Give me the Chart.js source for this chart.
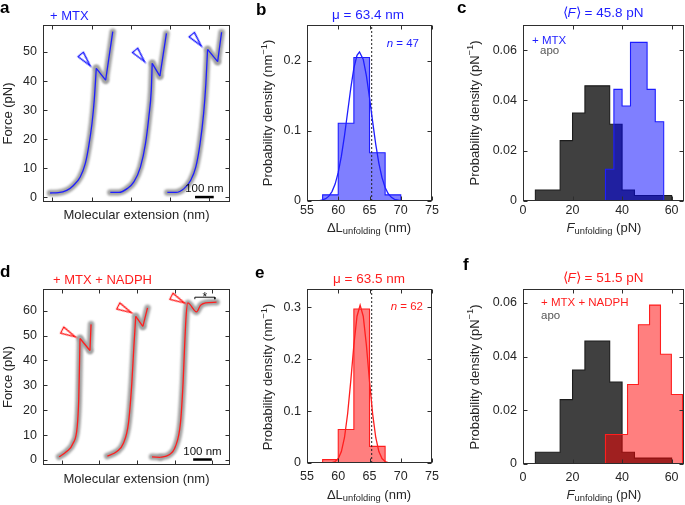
<!DOCTYPE html>
<html lang="en">
<head>
<meta charset="UTF-8">
<title>Unfolding forces</title>
<style>
  body { margin: 0; background: #fff; }
  #fig { position: relative; width: 685px; height: 505px; }
  #fig canvas { position: absolute; left: 0; top: 0; }
</style>
</head>
<body>
<div id="fig">
  <canvas id="pa" width="685" height="505"></canvas>
  <canvas id="pb" width="685" height="505"></canvas>
  <canvas id="pc" width="685" height="505"></canvas>
  <canvas id="pd" width="685" height="505"></canvas>
  <canvas id="pe" width="685" height="505"></canvas>
  <canvas id="pf" width="685" height="505"></canvas>
</div>
<script src="https://cdn.jsdelivr.net/npm/chart.js@4.4.0/dist/chart.umd.min.js"></script>
<script>
// ---- a: force-extension traces (+ MTX), extension in nm, force in pN
const a1Ext = [38, 82, 127, 163, 199, 226, 244, 262, 274, 285, 335, 373];
const a1F = [1.5, 1.6, 2.4, 4.1, 7.0, 11.6, 17.4, 25.4, 33.4, 44.4, 40.3, 57.0];
const a2Ext = [360, 405, 450, 486, 521, 548, 566, 579, 584, 625, 660];
const a2F = [1.7, 1.7, 3.0, 5.3, 10.4, 18.5, 27.7, 36.9, 46.1, 41.7, 56.4];
const a3Ext = [665, 710, 754, 790, 817, 840, 859, 871, 880, 934, 955];
const a3F = [1.7, 1.7, 3.0, 5.9, 10.4, 18.5, 28.9, 39.2, 50.9, 46.7, 56.8];
const aMarkExt = [227, 518, 821];
const aMarkF = [47.2, 48.6, 54.0];
const aBarExt = [813, 913];
const aExtTicks = [50, 260, 470, 680, 890];
const aForceTicks = [0, 10, 20, 30, 40, 50];

// ---- d: force-extension traces (+ MTX + NADPH)
const d1Ext = [86, 126, 161, 183, 191, 195, 198, 251, 257];
const d1F = [1.3, 3.4, 6.7, 13.4, 24.2, 37.6, 48.8, 44.0, 54.5];
const d2Ext = [344, 395, 430, 457, 475, 486, 496, 534, 559];
const d2F = [1.6, 3.4, 6.7, 14.8, 30.9, 45.6, 57.7, 53.7, 61.1];
const d3Ext = [583, 627, 672, 708, 735, 749, 758, 766, 774, 821, 842, 869, 928];
const d3F = [1.3, 1.1, 2.0, 5.4, 14.8, 30.9, 47.0, 58.5, 63.1, 59.5, 62.1, 63.1, 63.4];
const dMarkExt = [138, 438, 722];
const dMarkF = [50.8, 60.5, 64.4];
const dBarExt = [803, 903];
const dStarExt = [812, 812, 919, 919];
const dStarF = [64.6, 65.4, 65.4, 64.6];
const dExtTicks = [100, 300, 505, 705, 905];
const dForceTicks = [0, 10, 20, 30, 40, 50, 60];

// ---- b / e: unfolding length histograms + gaussian fits
const lenTicks = [55, 60, 65, 70, 75];
const bEdges = [57.5, 60, 62.5, 65, 67.5, 70];
const bDens = [0.0088, 0.111, 0.205, 0.069, 0.0088];
const bFitX = [57, 57.5, 58, 58.5, 59, 59.5, 60, 60.5, 61, 61.5, 62, 62.5, 63, 63.4, 64, 64.5, 65, 65.5, 66, 66.5, 67, 67.5, 68, 68.5, 69, 70, 71];
const bFitY = [0.0006, 0.0015, 0.0033, 0.0069, 0.0134, 0.0242, 0.0408, 0.064, 0.0935, 0.1271, 0.1609, 0.1897, 0.2082, 0.213, 0.2023, 0.1792, 0.1477, 0.1134, 0.081, 0.0539, 0.0334, 0.0193, 0.0103, 0.0052, 0.0024, 0.0004, 0.0001];
const bTicks = [0, 0.1, 0.2];
const eEdges = [57.5, 60, 62.5, 65, 67.5];
const eDens = [0.0065, 0.0645, 0.297, 0.032];
const eFitX = [58, 58.5, 59, 59.5, 60, 60.5, 61, 61.5, 62, 62.5, 63, 63.5, 64, 64.5, 65, 65.5, 66, 66.5, 67, 67.5, 68, 68.5, 69];
const eFitY = [0, 0.0002, 0.0008, 0.0029, 0.0086, 0.0221, 0.0492, 0.0949, 0.158, 0.2275, 0.2831, 0.3045, 0.2831, 0.2275, 0.158, 0.0949, 0.0492, 0.0221, 0.0086, 0.0029, 0.0008, 0.0002, 0];
const eTicks = [0, 0.1, 0.2, 0.3];
const contourLen = 65.35;

// ---- c / f: unfolding force histograms
const forceTicks = [0, 20, 40, 60];
const apoEdges = [5, 10, 15, 20, 25, 30, 35, 40, 45, 50, 55, 60];
const apoDens = [0.0044, 0.0044, 0.024, 0.035, 0.0458, 0.0458, 0.0305, 0.0044, 0.0022, 0.0022, 0.0022];
const mtxEdges = [33.3, 36.7, 40.0, 43.4, 46.7, 50.1, 53.4, 56.8];
const mtxDens = [0.0126, 0.0444, 0.0378, 0.0631, 0.0631, 0.0444, 0.0315];
const nadphEdges = [33.3, 37.7, 42.2, 46.6, 51.1, 55.5, 59.9, 64.4];
const nadphDens = [0.011, 0.011, 0.0296, 0.0519, 0.0592, 0.0409, 0.0259];
const densTicks = [0, 0.02, 0.04, 0.06];

const BLUE = '#1e1eff';
const RED = '#ff1e1e';
const INK = '#262626';
const FONT = "'Liberation Sans', Arial, Helvetica, sans-serif";

function pts(xs, ys) {
    return xs.map((x, i) => ({x: x, y: ys[i]}));
}

// outline of a histogram, fed to a stepped line
function steps(edges, dens) {
    const p = [{x: edges[0], y: 0}];
    dens.forEach((d, i) => p.push({x: edges[i], y: d}));
    p.push({x: edges[edges.length - 1], y: 0});
    return p;
}

function triangle(color) {
    const c = document.createElement('canvas');
    c.width = 22;
    c.height = 22;
    const g = c.getContext('2d');
    g.strokeStyle = color;
    g.lineWidth = 1.3;
    g.beginPath();
    g.moveTo(3.5, 7.5);
    g.lineTo(18.5, 11);
    g.lineTo(3.5, 14.5);
    g.closePath();
    g.stroke();
    return c;
}

// smooth rise up to the rupture, straight drop, smooth recovery
function trace(xs, ys, color) {
    const pk = ys.findIndex((v, i) => ys[i + 1] < v);
    const pieces = [[0, pk + 1, 'monotone'], [pk, pk + 2, 'default'], [pk + 1, xs.length, 'monotone']];
    const out = [];
    pieces.forEach(([s, e, mode]) => {
        const data = pts(xs.slice(s, e), ys.slice(s, e));
        out.push({data: data, showLine: true, borderColor: color, borderWidth: 1.3,
            cubicInterpolationMode: mode, order: 0});
        out.push({data: data, showLine: true, borderColor: '#a2a2a2', borderWidth: 6.5,
            borderCapStyle: 'round', borderJoinStyle: 'round', cubicInterpolationMode: mode, order: 3, halo: true});
    });
    return out;
}

function hist(edges, dens, fill, line, order) {
    return {data: steps(edges, dens), showLine: true, stepped: 'before', fill: 'origin',
        backgroundColor: fill, borderColor: line, borderWidth: 1.1, order: order};
}

function runs(ctx, parts, x, y, o) {
    o = o || {};
    const size = o.size || 13;
    const fontOf = p => (p.i ? 'italic ' : '') + (p.b ? 'bold ' : '') +
        ((p.sub || p.sup) ? size * 0.72 : size) + 'px ' + FONT;
    let w = 0;
    parts.forEach(p => { ctx.font = fontOf(p); p.w = ctx.measureText(p.t).width; w += p.w; });
    ctx.save();
    ctx.translate(x, y);
    if (o.rot) ctx.rotate(o.rot);
    ctx.fillStyle = o.color || INK;
    ctx.textBaseline = 'middle';
    ctx.textAlign = 'left';
    let cx = o.align === 'left' ? 0 : o.align === 'right' ? -w : -w / 2;
    parts.forEach(p => {
        ctx.font = fontOf(p);
        const dy = p.sub ? size * 0.25 : p.sup ? -size * 0.35 : 0;
        ctx.fillText(p.t, cx, dy);
        cx += p.w;
    });
    ctx.restore();
}

function letter(ctx, t, x, y) {
    ctx.save();
    ctx.font = 'bold 17px ' + FONT;
    ctx.fillStyle = '#000';
    ctx.textBaseline = 'alphabetic';
    ctx.fillText(t, x, y);
    ctx.restore();
}

const frame = {
    id: 'frame',
    afterDatasetsDraw(chart) {
        const {ctx, chartArea: a, scales: {x, y}} = chart;
        const L = Math.round(a.left) + 0.5, R = Math.round(a.right) - 0.5;
        const T = Math.round(a.top) + 0.5, B = Math.round(a.bottom) - 0.5;
        ctx.save();
        ctx.strokeStyle = '#2e2e2e';
        ctx.lineWidth = 1;
        ctx.strokeRect(L, T, R - L, B - T);
        ctx.beginPath();
        x.ticks.forEach(t => {
            const p = Math.round(x.getPixelForValue(t.value)) + 0.5;
            ctx.moveTo(p, B); ctx.lineTo(p, B - 4);
            ctx.moveTo(p, T); ctx.lineTo(p, T + 4);
        });
        y.ticks.forEach(t => {
            const p = Math.round(y.getPixelForValue(t.value)) + 0.5;
            ctx.moveTo(L, p); ctx.lineTo(L + 4, p);
            ctx.moveTo(R, p); ctx.lineTo(R - 4, p);
        });
        ctx.stroke();
        ctx.restore();
    }
};

// soft grey halo under the traces
const halo = {
    id: 'halo',
    beforeDatasetDraw(chart, args) {
        if (chart.data.datasets[args.index].halo) {
            chart.ctx.save();
            chart.ctx.filter = 'blur(0.9px)';
        }
    },
    afterDatasetDraw(chart, args) {
        if (chart.data.datasets[args.index].halo) chart.ctx.restore();
    }
};

function axis(min, max, ticks, showLabels, pad, isX) {
    return {
        type: 'linear', min: min, max: max, bounds: 'data',
        grid: {display: false, drawTicks: false}, border: {display: false},
        ticks: {display: showLabels, padding: pad, maxRotation: 0, autoSkip: false, color: INK,
            font: {family: FONT, size: 12.5}, callback: v => String(v)},
        afterBuildTicks: s => { s.ticks = ticks.map(v => ({value: v})); },
        afterFit: s => { if (isX) s.height = 20; else s.width = 40; }
    };
}

function makeChart(id, box, xAxis, yAxis, datasets, notes) {
    return new Chart(document.getElementById(id), {
        type: 'scatter',
        data: {datasets: datasets},
        options: {
            responsive: false, animation: false, devicePixelRatio: 1,
            layout: {padding: {left: box.l - 40, top: box.t, right: 685 - box.r, bottom: 505 - box.b - 20}},
            plugins: {legend: {display: false}, tooltip: {enabled: false}},
            elements: {point: {radius: 0}, line: {tension: 0}},
            scales: {x: xAxis, y: yAxis}
        },
        plugins: [halo, frame, {id: 'notes', afterDraw: c => notes(c.ctx, c)}]
    });
}

function scaleBar(ctx, c, ext, f) {
    const x = c.scales.x, y = c.scales.y;
    const cx = (x.getPixelForValue(ext[0]) + x.getPixelForValue(ext[1])) / 2;
    runs(ctx, [{t: '100 nm'}], cx, y.getPixelForValue(f) - 8, {size: 11.5, color: '#111'});
}

const triBlue = triangle(BLUE);
const triRed = triangle(RED);

// ---------- a
makeChart('pa', {l: 43, t: 25, r: 230, b: 202},
    axis(0, 1000, aExtTicks, false, 2, true),
    axis(-1.6, 59.3, aForceTicks, true, 6, false),
    [].concat(trace(a1Ext, a1F, BLUE), trace(a2Ext, a2F, BLUE), trace(a3Ext, a3F, BLUE), [
        {data: pts(aMarkExt, aMarkF), pointStyle: triBlue, pointRotation: 50, pointRadius: 5, order: 0},
        {data: pts(aBarExt, [0.1, 0.1]), showLine: true, borderColor: '#000', borderWidth: 2.5, order: 0}
    ]),
    (ctx, c) => {
        letter(ctx, 'a', 0, 13);
        runs(ctx, [{t: '+ MTX'}], 50, 16, {color: BLUE, align: 'left'});
        runs(ctx, [{t: 'Force (pN)'}], 8, 113.5, {rot: -Math.PI / 2});
        runs(ctx, [{t: 'Molecular extension (nm)'}], 136.5, 215);
        scaleBar(ctx, c, aBarExt, 0.1);
    });

// ---------- b
makeChart('pb', {l: 307, t: 25, r: 432, b: 201},
    axis(55, 75, lenTicks, true, 2, true),
    axis(0, 0.2514, bTicks, true, 6, false),
    [
        {data: pts(bFitX, bFitY), showLine: true, borderColor: BLUE, borderWidth: 1.3, order: 0},
        {data: pts([contourLen, contourLen], [0, 0.2514]), showLine: true, borderColor: '#222', borderWidth: 1, borderDash: [2, 2], order: 1},
        hist(bEdges, bDens, 'rgba(0,0,255,0.5)', BLUE, 2)
    ],
    (ctx) => {
        letter(ctx, 'b', 256, 15);
        runs(ctx, [{t: 'μ = 63.4 nm'}], 368, 15, {color: BLUE, size: 13.5});
        runs(ctx, [{t: 'n', i: true}, {t: ' = 47'}], 419, 43.5, {color: BLUE, size: 11.5, align: 'right'});
        runs(ctx, [{t: 'Probability density (nm'}, {t: '−1', sup: true}, {t: ')'}], 268.5, 113, {rot: -Math.PI / 2});
        runs(ctx, [{t: 'ΔL'}, {t: 'unfolding', sub: true}, {t: ' (nm)'}], 369, 228);
    });

// ---------- c
makeChart('pc', {l: 523, t: 25, r: 684, b: 201},
    axis(0, 65, forceTicks, true, 2, true),
    axis(0, 0.07, densTicks, true, 6, false),
    [
        hist(mtxEdges, mtxDens, 'rgba(0,0,255,0.5)', BLUE, 0),
        hist(apoEdges, apoDens, '#404040', '#1c1c1c', 1)
    ],
    (ctx) => {
        letter(ctx, 'c', 457, 13);
        runs(ctx, [{t: '⟨'}, {t: 'F', i: true}, {t: '⟩ = 45.8 pN'}], 603, 13.5, {color: BLUE, size: 13.5});
        runs(ctx, [{t: '+ MTX'}], 532, 41, {color: BLUE, size: 11.5, align: 'left'});
        runs(ctx, [{t: 'apo'}], 540, 51, {color: '#555', size: 11.5, align: 'left'});
        runs(ctx, [{t: 'Probability density (pN'}, {t: '−1', sup: true}, {t: ')'}], 475, 113, {rot: -Math.PI / 2});
        runs(ctx, [{t: 'F', i: true}, {t: 'unfolding', sub: true}, {t: ' (pN)'}], 604, 228);
    });

// ---------- d
makeChart('pd', {l: 43, t: 289, r: 230, b: 465},
    axis(0, 1000, dExtTicks, false, 2, true),
    axis(-2, 68.7, dForceTicks, true, 6, false),
    [].concat(trace(d1Ext, d1F, RED), trace(d2Ext, d2F, RED), trace(d3Ext, d3F, RED), [
        {data: pts(dMarkExt, dMarkF), pointStyle: triRed, pointRotation: 27, pointRadius: 5, order: 0},
        {data: pts(dBarExt, [0.2, 0.2]), showLine: true, borderColor: '#000', borderWidth: 2.5, order: 0},
        {data: pts(dStarExt, dStarF), showLine: true, borderColor: '#111', borderWidth: 1, order: 0}
    ]),
    (ctx, c) => {
        letter(ctx, 'd', 0, 277);
        runs(ctx, [{t: '+ MTX + NADPH'}], 53, 280, {color: RED, align: 'left'});
        runs(ctx, [{t: 'Force (pN)'}], 8, 377, {rot: -Math.PI / 2});
        runs(ctx, [{t: 'Molecular extension (nm)'}], 136.5, 479);
        scaleBar(ctx, c, dBarExt, 0.2);
        const sx = (c.scales.x.getPixelForValue(dStarExt[1]) + c.scales.x.getPixelForValue(dStarExt[2])) / 2;
        runs(ctx, [{t: '*'}], sx, c.scales.y.getPixelForValue(dStarF[1]) + 0.5, {size: 12, color: '#111'});
    });

// ---------- e
makeChart('pe', {l: 307, t: 289, r: 432, b: 463},
    axis(55, 75, lenTicks, true, 6, true),
    axis(0, 0.3356, eTicks, true, 6, false),
    [
        {data: pts(eFitX, eFitY), showLine: true, borderColor: RED, borderWidth: 1.3, order: 0},
        {data: pts([contourLen, contourLen], [0, 0.3356]), showLine: true, borderColor: '#222', borderWidth: 1, borderDash: [2, 2], order: 1},
        hist(eEdges, eDens, 'rgba(255,0,0,0.5)', RED, 2)
    ],
    (ctx) => {
        letter(ctx, 'e', 255, 278);
        runs(ctx, [{t: 'μ = 63.5 nm'}], 369, 279, {color: RED, size: 13.5});
        runs(ctx, [{t: 'n', i: true}, {t: ' = 62'}], 423, 306.5, {color: RED, size: 11.5, align: 'right'});
        runs(ctx, [{t: 'Probability density (nm'}, {t: '−1', sup: true}, {t: ')'}], 268.5, 377, {rot: -Math.PI / 2});
        runs(ctx, [{t: 'ΔL'}, {t: 'unfolding', sub: true}, {t: ' (nm)'}], 369, 495);
    });

// ---------- f
makeChart('pf', {l: 523, t: 289, r: 684, b: 464},
    axis(0, 65, forceTicks, true, 6, true),
    axis(0, 0.0652, densTicks, true, 6, false),
    [
        hist(nadphEdges, nadphDens, 'rgba(255,0,0,0.5)', RED, 0),
        hist(apoEdges, apoDens, '#404040', '#1c1c1c', 1)
    ],
    (ctx) => {
        letter(ctx, 'f', 463, 270);
        runs(ctx, [{t: '⟨'}, {t: 'F', i: true}, {t: '⟩ = 51.5 pN'}], 603, 278, {color: RED, size: 13.5});
        runs(ctx, [{t: '+ MTX + NADPH'}], 541, 303, {color: RED, size: 11.5, align: 'left'});
        runs(ctx, [{t: 'apo'}], 541, 315.5, {color: '#555', size: 11.5, align: 'left'});
        runs(ctx, [{t: 'Probability density (pN'}, {t: '−1', sup: true}, {t: ')'}], 475, 377, {rot: -Math.PI / 2});
        runs(ctx, [{t: 'F', i: true}, {t: 'unfolding', sub: true}, {t: ' (pN)'}], 604, 495);
    });
</script>
</body>
</html>
